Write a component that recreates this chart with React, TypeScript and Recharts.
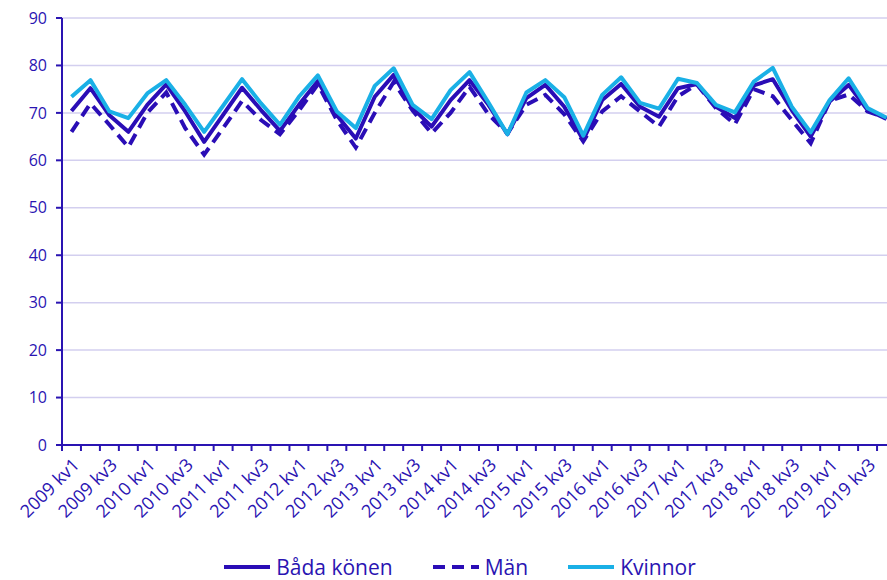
import React from "react";
import { LineChart, Line, XAxis, YAxis, CartesianGrid, Legend } from "recharts";

const years = [2009, 2010, 2011, 2012, 2013, 2014, 2015, 2016, 2017, 2018, 2019];
const quarters = ["kv1", "kv2", "kv3", "kv4"];
const categories = years.flatMap((y) => quarters.map((q) => `${y} ${q}`));

const badaKonen = [70.4, 75.2, 69.5, 66.0, 71.7, 76.0, 70.3, 63.9, 69.6, 75.3, 70.6, 66.2, 71.7, 76.7, 69.5, 64.6, 73.4, 78.0, 71.0, 67.1, 72.7, 76.9, 71.7, 65.5, 73.1, 75.9, 71.3, 64.3, 72.7, 76.1, 71.3, 69.2, 75.2, 76.1, 71.3, 68.9, 75.8, 77.1, 70.6, 65.0, 72.4, 75.9, 70.6, 68.7];
const man = [66.0, 72.0, 67.5, 62.8, 70.0, 74.3, 66.8, 61.2, 66.8, 72.5, 68.5, 65.5, 70.5, 76.0, 68.5, 62.7, 70.0, 76.5, 70.5, 65.7, 70.0, 75.5, 69.7, 65.7, 71.7, 73.8, 69.7, 64.0, 70.3, 73.5, 70.3, 67.1, 73.5, 76.0, 71.0, 67.6, 75.0, 73.5, 68.5, 63.6, 72.5, 73.9, 70.3, 68.9];
const kvinnor = [73.4, 76.9, 70.3, 68.9, 74.1, 76.9, 71.7, 66.0, 71.5, 77.1, 72.0, 67.5, 73.4, 77.9, 70.3, 66.8, 75.7, 79.4, 71.7, 68.7, 74.8, 78.6, 72.2, 65.5, 74.3, 76.9, 73.3, 65.2, 73.8, 77.5, 72.1, 70.9, 77.2, 76.3, 71.7, 70.1, 76.6, 79.5, 71.3, 65.9, 72.7, 77.3, 71.0, 69.0];

const yTicks = [0, 10, 20, 30, 40, 50, 60, 70, 80, 90];

const seriesNames = ["Båda könen", "Män", "Kvinnor"];

const data = categories.map((c, i) => ({
  x: i + 0.5,
  label: c,
  bada: badaKonen[i],
  man: man[i],
  kvinnor: kvinnor[i],
}));

const boundaryTicks = Array.from({ length: categories.length + 1 }, (_, i) => i);
const labelTicks = categories.map((_, i) => i + 0.5).filter((_, i) => i % 2 === 0);

const AXIS = "#2A14B2";
const DARK = "#2A0DB6";
const LIGHT = "#1AB0E6";
const GRID = "#D3CFEF";
const FONT = "'Open Sans', 'Noto Sans', sans-serif";

const legendItems = [
  { name: seriesNames[0], color: DARK, dash: undefined as string | undefined },
  { name: seriesNames[1], color: DARK, dash: "12 7" },
  { name: seriesNames[2], color: LIGHT, dash: undefined as string | undefined },
];

const renderLegend = () => (
  <div
    style={{
      height: 40,
      display: "flex",
      justifyContent: "center",
      alignItems: "center",
      paddingLeft: 24,
      paddingTop: 14,
      boxSizing: "border-box",
      fontFamily: FONT,
      fontSize: 21,
      lineHeight: "21px",
      color: AXIS,
    }}
  >
    {legendItems.map((it, idx) => (
      <div key={it.name} style={{ display: "flex", alignItems: "center", marginLeft: idx === 0 ? 0 : 40, height: 22 }}>
        <svg width={46} height={10} style={{ marginRight: 6 }}>
          <line x1={0} y1={5} x2={46} y2={5} stroke={it.color} strokeWidth={4} strokeDasharray={it.dash} />
        </svg>
        <span>{it.name}</span>
      </div>
    ))}
  </div>
);

const EmptyTick = () => <g />;

export default function App() {
  return (
    <div style={{ position: "absolute", left: 0, top: 0, width: 887, height: 580, overflow: "hidden", background: "#fff" }}>
      <LineChart width={900} height={580} data={data} margin={{ top: 18, right: 4, left: 0, bottom: 0 }}>
        <CartesianGrid xAxisId={0} vertical={false} stroke={GRID} strokeWidth={1.5} />
        <XAxis
          xAxisId={0}
          dataKey="x"
          type="number"
          domain={[0, categories.length]}
          ticks={boundaryTicks}
          tick={EmptyTick}
          height={1}
          interval={0}
          axisLine={{ stroke: AXIS, strokeWidth: 2 }}
          tickLine={{ stroke: AXIS, strokeWidth: 2 }}
          tickSize={6}
          allowDecimals
        />
        <XAxis
          xAxisId={1}
          dataKey="x"
          type="number"
          domain={[0, categories.length]}
          ticks={labelTicks}
          height={94}
          axisLine={false}
          tickLine={false}
          tickSize={0}
          tickMargin={11}
          angle={-45}
          textAnchor="end"
          interval={0}
          tickFormatter={(v: number) => categories[Math.floor(v)]}
          tick={{ fill: AXIS, fontSize: 18, fontFamily: FONT }}
          allowDecimals
        />
        <YAxis
          domain={[0, 90]}
          ticks={yTicks}
          width={62}
          interval={0}
          axisLine={{ stroke: AXIS, strokeWidth: 2 }}
          tickLine={{ stroke: AXIS, strokeWidth: 2 }}
          tickSize={6}
          tickMargin={9}
          tick={{ fill: AXIS, fontSize: 16, fontFamily: FONT }}
        />
        <Legend verticalAlign="bottom" content={renderLegend} />
        <Line xAxisId={1} type="linear" dataKey="bada" name={seriesNames[0]} stroke={DARK} strokeWidth={4} dot={false} isAnimationActive={false} strokeLinejoin="round" />
        <Line xAxisId={1} type="linear" dataKey="man" name={seriesNames[1]} stroke={DARK} strokeWidth={4} strokeDasharray="12 7" dot={false} isAnimationActive={false} />
        <Line xAxisId={1} type="linear" dataKey="kvinnor" name={seriesNames[2]} stroke={LIGHT} strokeWidth={4} dot={false} isAnimationActive={false} strokeLinejoin="round" />
      </LineChart>
    </div>
  );
}
